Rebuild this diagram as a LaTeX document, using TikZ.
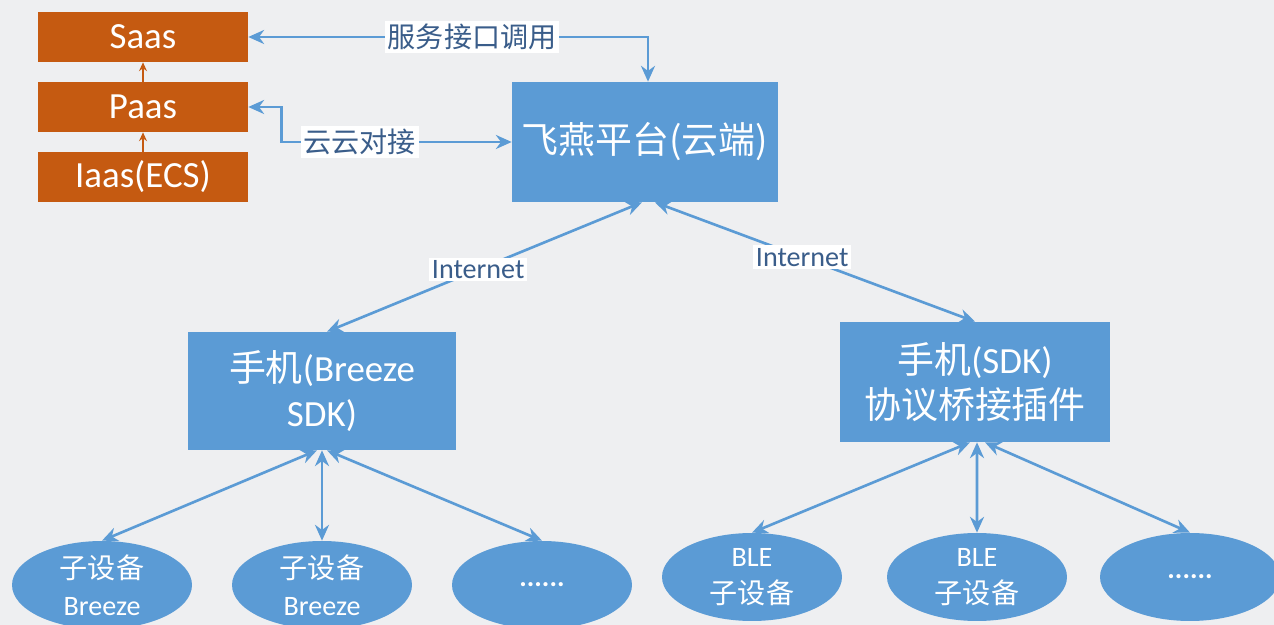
\documentclass[tikz,border=0pt]{standalone}
\usepackage{fontspec}
\setmainfont{Carlito}
\newfontfamily\cjk{Noto Sans CJK SC}
\usetikzlibrary{arrows.meta,shapes.geometric}
\definecolor{cloudblue}{HTML}{5B9BD5}
\definecolor{layerorange}{HTML}{C55A11}
\definecolor{labelblue}{HTML}{3A5D8A}
\definecolor{bggray}{HTML}{EEEFF1}
\tikzset{>={Stealth[length=9pt,width=8pt]}}
\tikzset{
	layer/.style={fill=layerorange, text=white, minimum width=4.2cm, minimum height=1cm, font=\fontsize{21}{25}\selectfont},
	blockbox/.style={fill=cloudblue, text=white, align=center, font=\fontsize{21}{25.5}\selectfont},
	device/.style={ellipse, fill=cloudblue, text=white, align=center, minimum width=3.6cm, minimum height=1.76cm, inner sep=0pt, font=\fontsize{16}{21}\selectfont},
	link/.style={<->, draw=cloudblue, line width=1.5pt},
	stack/.style={->, draw=layerorange, line width=0.9pt, >={Stealth[length=5pt,width=4.5pt]}},
	tag/.style={fill=white, text=labelblue, inner sep=1.5pt, font=\fontsize{16}{19}\selectfont}
}

\begin{document}
\begin{tikzpicture}[x=0.02cm, y=0.02cm]
	\fill[bggray] (0,0) rectangle (1274,625);
	\useasboundingbox (0,0) rectangle (1274,625);

	% cloud layers
	\node[layer] (saas) at (143,588) {Saas};
	\node[layer] (paas) at (143,518) {Paas};
	\node[layer] (iaas) at (143,448) {Iaas(ECS)};
	\draw[stack] (paas.north) -- (saas.south);
	\draw[stack] (iaas.north) -- (paas.south);

	% platform and phones
	\node[blockbox, minimum width=5.32cm, minimum height=2.4cm] (cloud) at (645,483) {{\cjk 飞燕平台(云端)}};
	\node[blockbox, minimum width=5.38cm, minimum height=2.36cm] (phonea) at (322,234) {{\cjk 手机}(Breeze\\SDK)};
	\node[blockbox, minimum width=5.4cm, minimum height=2.4cm] (phoneb) at (975,243) {{\cjk 手机}(SDK)\\{\cjk 协议桥接插件}};

	% sub devices
	\node[device] (suba) at (102,40) {{\cjk 子设备}\\Breeze};
	\node[device] (subb) at (322,40) {{\cjk 子设备}\\Breeze};
	\node[device] (subc) at (542,40) {\bfseries ......};
	\node[device] (blea) at (752,48) {BLE\\{\cjk 子设备}};
	\node[device] (bleb) at (977,48) {BLE\\{\cjk 子设备}};
	\node[device] (blec) at (1190,48) {\bfseries ......};

	\draw[link] (saas.east) -| node[tag, pos=0.28] {{\cjk 服务接口调用}} ([xshift=0.06cm]cloud.north);
	\draw[link] (paas.east) -- ++(33,0) |- node[tag, pos=0.67] {{\cjk 云云对接}} (cloud.west);
	\draw[link] ([xshift=-0.06cm]cloud.south) -- node[tag, pos=0.52] {Internet} ([xshift=0.1cm]phonea.north);
	\draw[link] ([xshift=0.2cm]cloud.south) -- node[tag, pos=0.46] {Internet} (phoneb.north);

	\draw[link] ([xshift=-0.1cm]phonea.south) -- (suba.north);
	\draw[link] (phonea.south) -- (subb.north);
	\draw[link] ([xshift=0.1cm]phonea.south) -- (subc.north);
	\draw[link] ([xshift=-0.1cm]phoneb.south) -- (blea.north);
	\draw[link] ([xshift=0.04cm]phoneb.south) -- (bleb.north);
	\draw[link] ([xshift=0.2cm]phoneb.south) -- (blec.north);
\end{tikzpicture}
\end{document}
